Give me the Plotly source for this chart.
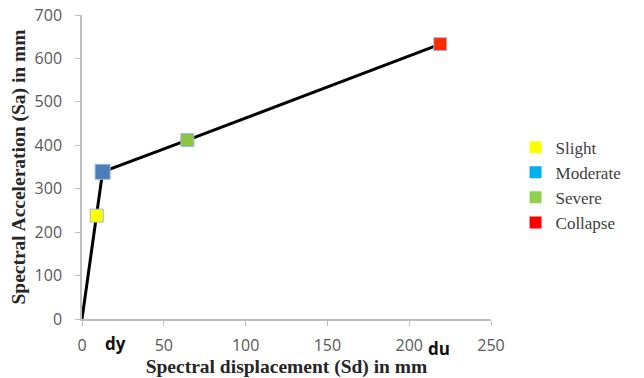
import plotly.graph_objects as go

sd = [0, 9, 12.6, 64.4, 219]
sa = [0, 238, 339, 412, 633]
state_idx = [1, 2, 3, 4]
states = ["Slight", "Moderate", "Severe", "Collapse"]
marker_colors = ["#FFFF00", "#4A7EBB", "#8CC63F", "#FF2A00"]
marker_sizes = [13, 15, 13, 13]
legend_colors = ["#FFFF00", "#00B0F0", "#92D050", "#FF0000"]
x_ticks = [0, 50, 100, 150, 200, 250]
y_ticks = [0, 100, 200, 300, 400, 500, 600, 700]
labels_pts = [("dy", 12.6, 13, -24), ("du", 219, -1, -29)]

fig = go.Figure()
fig.add_trace(go.Scatter(x=sd, y=sa, mode="lines",
                         line=dict(color="#000000", width=3),
                         showlegend=False, hoverinfo="skip"))
for i, name, mc, ms in zip(state_idx, states, marker_colors, marker_sizes):
    fig.add_trace(go.Scatter(x=[sd[i]], y=[sa[i]], mode="markers",
                             marker=dict(symbol="square", size=ms, color=mc,
                                         line=dict(color="#9DB8DC", width=1)),
                             showlegend=False))
for name, lc in zip(states, legend_colors):
    fig.add_trace(go.Scatter(x=[None], y=[None], mode="markers", name=name,
                             marker=dict(symbol="square", size=12, color=lc)))

for txt, xv, xs, ys in labels_pts:
    fig.add_annotation(x=xv, y=0, yref="y", text="<b>" + txt + "</b>",
                       showarrow=False, xshift=xs, yshift=ys,
                       font=dict(family="Open Sans, Arial", size=17, color="#111111"))

fig.update_layout(
    width=644, height=378,
    margin=dict(l=82, r=153, t=15, b=59),
    paper_bgcolor="white", plot_bgcolor="white",
    legend=dict(x=1.06, y=0.623, xanchor="left", yanchor="top",
                font=dict(family="Liberation Serif, Times New Roman", size=17, color="#404040"),
                bgcolor="rgba(0,0,0,0)", tracegroupgap=0, itemsizing="constant"),
    xaxis=dict(range=[0, 250], tickvals=x_ticks, showgrid=False, zeroline=False,
               showline=True, linecolor="#BFBFBF", linewidth=1.5,
               ticks="outside", ticklen=5, tickcolor="#BFBFBF",
               ticklabelstandoff=6, automargin=False,
               tickfont=dict(family="Open Sans, Arial", size=16, color="#595959"),
               title=dict(text="<b>Spectral displacement (Sd) in mm</b>", standoff=0,
                          font=dict(family="Liberation Serif, Times New Roman", size=19.5, color="#262626"))),
    yaxis=dict(range=[0, 700], tickvals=y_ticks, showgrid=False, zeroline=False,
               showline=True, linecolor="#BFBFBF", linewidth=1.5,
               ticks="outside", ticklen=5, tickcolor="#BFBFBF",
               ticklabelstandoff=10, automargin=False,
               tickfont=dict(family="Open Sans, Arial", size=16, color="#595959"),
               title=dict(text="<b>Spectral Acceleration (Sa) in mm</b>", standoff=4,
                          font=dict(family="Liberation Serif, Times New Roman", size=19.5, color="#262626"))),
)

fig.write_html("out.html")
